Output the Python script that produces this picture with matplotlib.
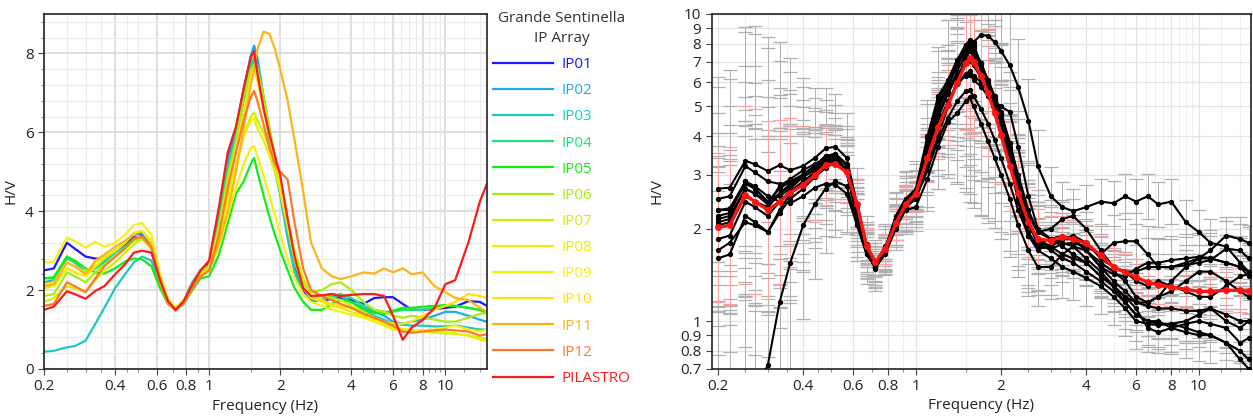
import numpy as np
import matplotlib
matplotlib.use("Agg")
import matplotlib.pyplot as plt
from matplotlib.ticker import FixedLocator, FixedFormatter, NullLocator, MultipleLocator, NullFormatter

plt.rcParams['font.family'] = ['Open Sans', 'DejaVu Sans']

# ---------------- data ----------------
FREQ = [0.2, 0.22, 0.25, 0.27, 0.3, 0.33, 0.36, 0.4, 0.44, 0.48,
        0.52, 0.57, 0.62, 0.67, 0.72, 0.78, 0.85, 0.92, 1.0, 1.1,
        1.2, 1.3, 1.4, 1.5, 1.55, 1.6, 1.7, 1.8, 1.9, 2.0,
        2.15, 2.3, 2.5, 2.7, 3.0, 3.3, 3.6, 4.0, 4.5, 5.0,
        5.5, 6.0, 6.6, 7.2, 8.0, 9.0, 10.0, 11.0, 12.5, 14.0, 15.0]

IP01 = [2.50, 2.55, 3.20, 3.05, 2.85, 2.80, 2.80, 3.00, 3.15, 3.35,
        3.40, 3.10, 2.20, 1.70, 1.52, 1.72, 2.20, 2.50, 2.70, 4.00,
        5.40, 6.10, 7.10, 7.90, 8.10, 7.80, 6.80, 5.90, 5.20, 4.60,
        3.50, 2.60, 1.95, 1.75, 1.72, 1.78, 1.80, 1.75, 1.65, 1.80,
        1.82, 1.82, 1.65, 1.50, 1.50, 1.52, 1.55, 1.58, 1.72, 1.70, 1.60]
IP02 = [2.20, 2.25, 2.85, 2.70, 2.45, 2.60, 2.75, 3.00, 3.20, 3.40,
        3.45, 3.10, 2.25, 1.72, 1.52, 1.72, 2.15, 2.45, 2.65, 3.95,
        5.30, 6.00, 7.00, 7.95, 8.20, 7.90, 6.90, 6.00, 5.20, 4.50,
        3.40, 2.50, 1.90, 1.72, 1.75, 1.85, 1.85, 1.70, 1.55, 1.45,
        1.35, 1.20, 1.15, 1.20, 1.25, 1.35, 1.45, 1.45, 1.35, 1.25, 1.20]
IP03 = [0.44, 0.46, 0.55, 0.58, 0.72, 1.15, 1.55, 2.05, 2.40, 2.70,
        2.85, 2.75, 2.10, 1.65, 1.50, 1.70, 2.15, 2.45, 2.60, 3.80,
        5.10, 5.90, 6.90, 7.70, 7.90, 7.60, 6.70, 5.80, 5.00, 4.40,
        3.30, 2.45, 1.90, 1.80, 1.85, 1.90, 1.85, 1.70, 1.50, 1.35,
        1.25, 1.15, 1.12, 1.10, 1.10, 1.08, 1.08, 1.10, 1.05, 1.00, 1.00]
IP04 = [2.30, 2.30, 2.80, 2.70, 2.45, 2.55, 2.70, 2.95, 3.10, 3.30,
        3.35, 3.05, 2.20, 1.70, 1.52, 1.72, 2.20, 2.50, 2.60, 3.70,
        5.00, 5.80, 6.80, 7.60, 7.80, 7.70, 6.90, 6.10, 5.30, 4.70,
        3.60, 2.70, 2.05, 1.80, 1.75, 1.85, 1.90, 1.80, 1.60, 1.50,
        1.45, 1.45, 1.50, 1.50, 1.50, 1.55, 1.60, 1.60, 1.55, 1.50, 1.40]
IP05 = [2.30, 2.33, 2.85, 2.75, 2.55, 2.45, 2.42, 2.55, 2.72, 2.80,
        2.78, 2.60, 2.05, 1.65, 1.50, 1.65, 2.00, 2.30, 2.35, 2.90,
        3.70, 4.45, 4.75, 5.20, 5.35, 5.00, 4.40, 3.85, 3.40, 3.00,
        2.50, 2.05, 1.70, 1.50, 1.50, 1.65, 1.75, 1.70, 1.50, 1.42,
        1.40, 1.48, 1.55, 1.55, 1.58, 1.60, 1.62, 1.60, 1.55, 1.50, 1.45]
IP06 = [1.85, 1.90, 2.45, 2.35, 2.20, 2.45, 2.65, 2.85, 3.05, 3.25,
        3.30, 3.05, 2.20, 1.70, 1.50, 1.70, 2.15, 2.50, 2.60, 3.60,
        4.90, 5.80, 6.90, 7.60, 7.70, 7.60, 6.90, 6.10, 5.40, 4.80,
        3.80, 2.90, 2.20, 1.95, 2.00, 2.15, 2.20, 2.00, 1.70, 1.50,
        1.45, 1.35, 1.30, 1.35, 1.30, 1.25, 1.20, 1.20, 1.30, 1.40, 1.42]
IP07 = [1.70, 1.80, 2.10, 2.05, 1.95, 2.25, 2.50, 2.70, 2.95, 3.15,
        3.30, 3.10, 2.25, 1.70, 1.50, 1.70, 2.10, 2.40, 2.55, 3.40,
        4.40, 5.20, 5.90, 6.40, 6.50, 6.30, 6.00, 5.60, 5.20, 4.70,
        3.80, 3.00, 2.30, 1.95, 1.85, 1.80, 1.75, 1.60, 1.45, 1.30,
        1.15, 1.05, 1.00, 1.00, 0.95, 0.92, 0.90, 0.90, 0.85, 0.80, 0.75]
IP08 = [2.05, 2.10, 2.55, 2.45, 2.35, 2.60, 2.80, 3.00, 3.20, 3.45,
        3.50, 3.25, 2.35, 1.75, 1.55, 1.72, 2.10, 2.40, 2.55, 3.30,
        4.30, 5.10, 5.90, 6.30, 6.35, 6.10, 5.80, 5.40, 5.00, 4.50,
        3.60, 2.80, 2.10, 1.80, 1.70, 1.60, 1.55, 1.45, 1.35, 1.25,
        1.15, 1.05, 1.00, 0.98, 0.98, 0.95, 0.92, 0.90, 0.85, 0.75, 0.70]
IP09 = [2.70, 2.72, 3.33, 3.24, 3.08, 3.22, 3.10, 3.20, 3.40, 3.65,
        3.70, 3.40, 2.40, 1.78, 1.55, 1.75, 2.10, 2.40, 2.50, 3.10,
        3.90, 4.60, 5.20, 5.60, 5.65, 5.40, 4.90, 4.40, 3.90, 3.40,
        2.80, 2.30, 1.90, 1.70, 1.60, 1.50, 1.45, 1.38, 1.30, 1.20,
        1.10, 1.00, 0.98, 0.97, 0.98, 1.00, 1.05, 1.10, 1.00, 0.95, 1.00]
IP10 = [2.15, 2.20, 2.70, 2.60, 2.45, 2.70, 2.85, 3.00, 3.20, 3.45,
        3.50, 3.20, 2.30, 1.75, 1.52, 1.72, 2.10, 2.40, 2.55, 3.50,
        4.70, 5.60, 6.50, 7.40, 7.60, 7.30, 6.60, 5.90, 5.30, 4.70,
        3.70, 2.80, 2.10, 1.85, 1.75, 1.65, 1.60, 1.55, 1.40, 1.30,
        1.20, 1.15, 1.15, 1.20, 1.35, 1.50, 1.60, 1.70, 1.90, 1.85, 1.80]
IP11 = [2.10, 2.15, 2.70, 2.60, 2.40, 2.75, 2.90, 3.10, 3.25, 3.40,
        3.35, 3.05, 2.20, 1.68, 1.50, 1.68, 2.05, 2.35, 2.50, 3.20,
        4.00, 5.00, 6.10, 7.20, 7.60, 8.10, 8.55, 8.50, 8.10, 7.60,
        6.80, 5.80, 4.50, 3.20, 2.55, 2.35, 2.28, 2.35, 2.45, 2.42,
        2.55, 2.45, 2.55, 2.40, 2.45, 2.10, 1.95, 1.80, 1.75, 1.55, 1.45]
IP12 = [1.60, 1.65, 2.20, 2.10, 1.95, 2.30, 2.60, 2.85, 3.05, 3.30,
        3.35, 3.10, 2.25, 1.70, 1.48, 1.68, 2.05, 2.35, 2.50, 3.40,
        4.60, 5.50, 6.30, 6.90, 7.05, 6.80, 6.20, 5.60, 5.20, 5.00,
        4.80, 3.70, 2.55, 2.00, 1.85, 1.75, 1.65, 1.55, 1.40, 1.30,
        1.20, 1.10, 0.95, 0.92, 0.95, 0.98, 1.00, 0.98, 0.95, 0.85, 0.88]
PILASTRO = [1.50, 1.58, 1.97, 1.90, 1.78, 1.98, 2.10, 2.40, 2.65, 2.95,
            3.00, 2.95, 2.25, 1.72, 1.50, 1.72, 2.15, 2.50, 2.75, 4.10,
            5.50, 6.15, 7.10, 7.90, 8.05, 7.50, 6.60, 5.95, 5.40, 4.90,
            3.80, 2.85, 2.05, 1.85, 1.87, 1.90, 1.85, 1.88, 1.90, 1.90,
            1.85, 1.35, 0.74, 1.05, 1.24, 1.55, 2.15, 2.25, 3.20, 4.25, 4.70]

MEAN_HV = [2.02, 2.05, 2.58, 2.45, 2.30, 2.45, 2.62, 2.78, 2.98, 3.22,
           3.25, 3.05, 2.40, 1.75, 1.56, 1.72, 2.08, 2.40, 2.60, 3.40,
           4.30, 5.05, 5.95, 6.90, 7.18, 7.00, 6.27, 5.53, 4.77, 4.05,
           3.20, 2.62, 2.10, 1.85, 1.83, 1.88, 1.85, 1.79, 1.64, 1.50,
           1.44, 1.39, 1.34, 1.31, 1.29, 1.27, 1.25, 1.25, 1.26, 1.26, 1.25]

# multiplicative standard-deviation factor
ERR_FACTOR = [1.75, 1.80, 1.95, 2.00, 1.95, 1.85, 1.75, 1.55, 1.42, 1.35,
              1.30, 1.25, 1.20, 1.15, 1.12, 1.12, 1.13, 1.15, 1.15, 1.20,
              1.28, 1.35, 1.50, 1.65, 1.75, 1.75, 1.70, 1.60, 1.50, 1.45,
              1.40, 1.35, 1.30, 1.25, 1.20, 1.17, 1.15, 1.15, 1.15, 1.15,
              1.15, 1.15, 1.15, 1.15, 1.15, 1.15, 1.15, 1.16, 1.17, 1.18, 1.18]
STATION_SPREAD = [1.5, 0.8, 1.6, 0.7, 1.3, 0.9, 1.4, 0.8, 1.5, 0.7, 1.2, 0.9]

NAMES = ["IP01", "IP02", "IP03", "IP04", "IP05", "IP06", "IP07", "IP08",
         "IP09", "IP10", "IP11", "IP12", "PILASTRO"]
SERIES = [IP01, IP02, IP03, IP04, IP05, IP06, IP07, IP08, IP09, IP10, IP11, IP12, PILASTRO]
COLORS = ["#1a1aff", "#22a8f2", "#1fc8c0", "#22e07a", "#12ee12", "#a6ee10",
          "#cdf000", "#e8f000", "#f6f010", "#ffe010", "#ffb21a", "#ff7a28", "#ff1a1a"]

XT = [0.2, 0.4, 0.6, 0.8, 1, 2, 4, 6, 8, 10]
XT_LAB = ["0.2", "0.4", "0.6", "0.8", "1", "2", "4", "6", "8", "10"]
XMINOR = [0.25, 0.3, 0.35, 0.45, 0.5, 0.7, 0.9, 1.5, 2.5, 3, 3.5, 4.5, 5, 5.5,
          6.5, 7, 7.5, 8.5, 9, 9.5, 12, 14]

W, H = 1253, 418
fig = plt.figure(figsize=(W / 100, H / 100), dpi=100)

TXT = "#222222"

def style_x(ax):
    ax.set_xscale("log")
    ax.xaxis.set_major_locator(FixedLocator(XT))
    ax.xaxis.set_major_formatter(FixedFormatter(XT_LAB))
    ax.xaxis.set_minor_locator(FixedLocator(XMINOR))
    ax.xaxis.set_minor_formatter(NullFormatter())
    ax.tick_params(axis="both", which="major", labelsize=11, colors="#444444",
                   labelcolor=TXT, length=4, width=0.8, direction="out")
    ax.tick_params(axis="both", which="minor", length=2.5, width=0.6, colors="#777777")
    ax.set_xlabel("Frequency (Hz)", fontsize=11, color=TXT, labelpad=3)
    for s in ax.spines.values():
        s.set_color("#222222")
        s.set_linewidth(1.2)

# ---------------- left panel ----------------
ax1 = fig.add_axes([44 / W, (H - 369) / H, 443 / W, 355 / H])
style_x(ax1)
ax1.set_xlim(0.2, 15)
ax1.set_ylim(0, 9)
ax1.yaxis.set_major_locator(FixedLocator([0, 2, 4, 6, 8]))
ax1.yaxis.set_minor_locator(MultipleLocator(0.4))
ax1.grid(which="major", color="#d6d6d6", lw=1.1)
ax1.grid(which="minor", color="#ececec", lw=0.8)
ax1.set_axisbelow(True)
ax1.set_ylabel("H/V", fontsize=11, color=TXT)
ax1.yaxis.set_label_coords(-0.058, 0.5)

handles = []
for name, vals, col in zip(NAMES, SERIES, COLORS):
    (ln,) = ax1.plot(FREQ, vals, color=col, lw=1.6, label=name)
    handles.append(ln)

leg = fig.legend(handles=handles, labels=NAMES, loc="upper left",
                 bbox_to_anchor=(493 / W, 1 - 11 / H), frameon=False,
                 title="Grande Sentinella\nIP Array", fontsize=11, title_fontsize=11,
                 labelcolor="linecolor", handlelength=3.9, handletextpad=0.6,
                 labelspacing=0.73, borderaxespad=0, borderpad=0)
leg.get_title().set_color("#333333")
leg.get_title().set_multialignment("center")
leg.get_title().set_linespacing(1.45)

# ---------------- right panel ----------------
ax2 = fig.add_axes([711.7 / W, (H - 368.7) / H, (1251 - 711.7) / W, (368.7 - 14) / H])
style_x(ax2)
ax2.set_yscale("log")
ax2.set_xlim(0.19, 15.3)
ax2.set_ylim(0.7, 10)
YT = [0.7, 0.8, 0.9, 1, 2, 3, 4, 5, 6, 7, 8, 9, 10]
ax2.yaxis.set_major_locator(FixedLocator(YT))
ax2.yaxis.set_major_formatter(FixedFormatter([str(v) for v in YT]))
ax2.yaxis.set_minor_locator(NullLocator())
ax2.grid(which="major", color="#e3e3e3", lw=0.9)
ax2.grid(which="minor", axis="x", color="#efefef", lw=0.8)
ax2.set_axisbelow(True)
ax2.set_ylabel("H/V", fontsize=11, color=TXT)
ax2.yaxis.set_label_coords(-0.087, 0.5)

fr = np.array(FREQ)
ef = np.array(ERR_FACTOR)
for vals, spread in zip(SERIES[:12], STATION_SPREAD):
    v = np.array(vals)
    f = ef ** spread
    eb = ax2.errorbar(fr, v, yerr=[v - v / f, v * f - v], fmt="none",
                      ecolor="#b0b0b0", elinewidth=0.7, capsize=5, capthick=0.9, zorder=1)
    for c in eb[1]:
        c.set_color("#555555")

vm = np.array(MEAN_HV)
ebm = ax2.errorbar(fr, vm, yerr=[vm - vm / ef, vm * ef - vm], fmt="none",
                   ecolor="#ffa0a0", elinewidth=0.7, capsize=5, capthick=0.9, zorder=2)
for c in ebm[1]:
    c.set_color("#ff5a5a")

for vals in SERIES[:12]:
    ax2.plot(FREQ, vals, "-o", color="black", lw=1.5, ms=2.8, zorder=3)
ax2.plot(FREQ, MEAN_HV, "-o", color="#ff1212", lw=2.4, ms=4, zorder=4)

fig.savefig("out.png", dpi=100)
